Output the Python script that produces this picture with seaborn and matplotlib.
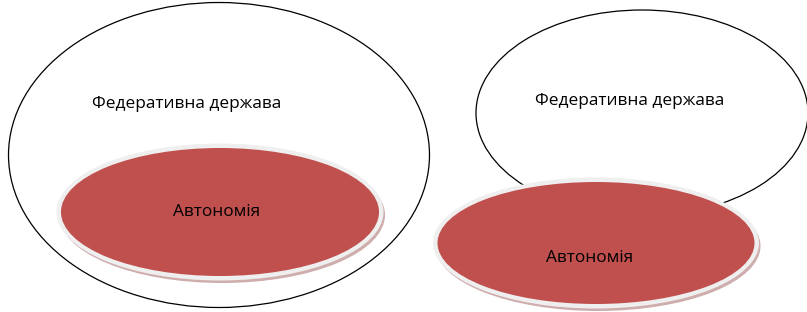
import matplotlib
matplotlib.use("Agg")
import matplotlib.pyplot as plt
from matplotlib.patches import Ellipse
import seaborn as sns

sns.set_theme(style="white")
plt.rcParams['font.family'] = ['Open Sans', 'DejaVu Sans']

outer_labels = ["Федеративна держава", "Федеративна держава"]
inner_labels = ["Автономія", "Автономія"]

# geometry in pixel units: (cx, cy, width, height)
outer_shapes = [(219, 155, 421, 305), (642, 113, 332, 206)]
inner_shapes = [(220, 212, 318, 128), (596, 243, 317, 122)]
outer_text_pos = [(187, 104), (630, 101)]
inner_text_pos = [(217, 212), (590, 258)]

red = "#C0504D"

fig = plt.figure(figsize=(8.07, 3.12), dpi=100)
ax = fig.add_axes([0, 0, 1, 1])
ax.set_xlim(0, 807)
ax.set_ylim(312, 0)
ax.axis("off")

for (cx, cy, w, h) in outer_shapes:
    ax.add_patch(Ellipse((cx, cy), w, h, facecolor="white", edgecolor="black", lw=0.9, zorder=1))

for (cx, cy, w, h) in inner_shapes:
    # soft shadow below
    ax.add_patch(Ellipse((cx + 2, cy + 3), w + 8, h + 8, facecolor="#cfadad", edgecolor="none", zorder=2))
    # light border ring
    ax.add_patch(Ellipse((cx, cy), w + 9, h + 9, facecolor="#efefef", edgecolor="none", zorder=3))
    ax.add_patch(Ellipse((cx, cy), w, h, facecolor=red, edgecolor="none", zorder=4))

for lbl, (x, y) in zip(outer_labels, outer_text_pos):
    ax.text(x, y, lbl, ha="center", va="center", fontsize=12.4, color="black", zorder=5)
for lbl, (x, y) in zip(inner_labels, inner_text_pos):
    ax.text(x, y, lbl, ha="center", va="center", fontsize=12.4, color="black", zorder=5)

fig.savefig("out.png", dpi=100)
